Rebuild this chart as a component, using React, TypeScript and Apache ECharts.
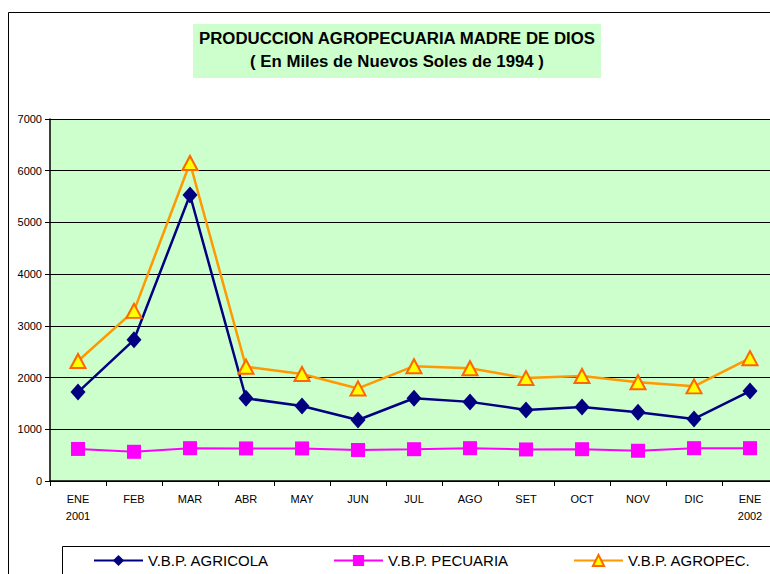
import React, { useEffect, useRef } from "react";
import * as echarts from "echarts";

const months = ["ENE\n2001", "FEB", "MAR", "ABR", "MAY", "JUN", "JUL", "AGO", "SET", "OCT", "NOV", "DIC", "ENE\n2002"];
const agricola = [1720, 2730, 5530, 1600, 1450, 1180, 1600, 1530, 1375, 1430, 1330, 1200, 1740];
const pecuaria = [620, 565, 635, 630, 630, 600, 615, 635, 610, 615, 585, 635, 635];
const agropec = [2320, 3290, 6150, 2210, 2070, 1790, 2220, 2180, 1990, 2030, 1910, 1830, 2375];
const yTicks = { min: 0, max: 7000, interval: 1000 };
const titleLines = ["PRODUCCION AGROPECUARIA MADRE DE DIOS", "( En Miles de Nuevos Soles de 1994 )"];
const seriesNames = ["V.B.P. AGRICOLA", "V.B.P. PECUARIA", "V.B.P. AGROPEC."];

export default function App() {
  const ref = useRef<HTMLDivElement>(null);
  useEffect(() => {
    if (!ref.current) return;
    const chart = echarts.init(ref.current, undefined, { renderer: "svg" });
    const font = "Arial, 'Liberation Sans', sans-serif";
    const legendBase = {
      top: 553,
      itemWidth: 49,
      itemHeight: 14,
      itemGap: 5,
      padding: 0,
      textStyle: { fontSize: 15, color: "#000", fontFamily: font },
    };
    chart.setOption({
      animation: false,
      backgroundColor: "#fff",
      textStyle: { fontFamily: font },
      graphic: [
        {
          type: "rect",
          z: -10,
          shape: { x: 8.5, y: 12.5, width: 800, height: 600 },
          style: { fill: "#fff", stroke: "#000", lineWidth: 1 },
        },
        {
          type: "rect",
          shape: { x: 193, y: 24, width: 408, height: 54 },
          style: { fill: "#CCFFCC" },
        },
        {
          type: "text",
          x: 397,
          y: 38,
          style: {
            text: titleLines[0],
            fontSize: 16.8,
            fontWeight: "bold",
            fontFamily: font,
            fill: "#000",
            textAlign: "center",
            textVerticalAlign: "middle",
          },
        },
        {
          type: "text",
          x: 397,
          y: 61,
          style: {
            text: titleLines[1],
            fontSize: 16.8,
            fontWeight: "bold",
            fontFamily: font,
            fill: "#000",
            textAlign: "center",
            textVerticalAlign: "middle",
          },
        },
        {
          type: "rect",
          shape: { x: 62.5, y: 546.5, width: 760, height: 60 },
          style: { fill: "#fff", stroke: "#000", lineWidth: 1 },
        },
      ],
      legend: [
        { ...legendBase, left: 93, data: [seriesNames[0]] },
        { ...legendBase, left: 333, data: [seriesNames[1]] },
        { ...legendBase, left: 573, data: [seriesNames[2]] },
      ],
      grid: {
        left: 50,
        top: 119,
        width: 728,
        height: 362,
        show: true,
        backgroundColor: "#CCFFCC",
        borderWidth: 0,
      },
      xAxis: {
        type: "category",
        data: months,
        boundaryGap: true,
        axisLine: { show: true, lineStyle: { color: "#000", width: 1.5 } },
        axisTick: { show: true, alignWithLabel: false, length: 5, lineStyle: { color: "#000" } },
        axisLabel: {
          interval: 0,
          color: "#000",
          fontSize: 11,
          fontFamily: font,
          lineHeight: 17,
          margin: 9,
        },
        splitLine: { show: false },
      },
      yAxis: {
        type: "value",
        min: yTicks.min,
        max: yTicks.max,
        interval: yTicks.interval,
        axisLine: { show: true, lineStyle: { color: "#000", width: 1.5 } },
        axisTick: { show: true, length: 5, lineStyle: { color: "#000" } },
        axisLabel: {
          color: "#000",
          fontSize: 11,
          fontFamily: font,
          margin: 8,
          formatter: (v: number) => String(v),
        },
        splitLine: { show: true, lineStyle: { color: "#000", width: 1 } },
      },
      series: [
        {
          name: seriesNames[0],
          type: "line",
          data: agricola,
          symbol: "diamond",
          symbolSize: [15, 17],
          color: "#000080",
          lineStyle: { color: "#000080", width: 2.5 },
          itemStyle: { color: "#000080" },
          z: 3,
        },
        {
          name: seriesNames[1],
          type: "line",
          data: pecuaria,
          symbol: "rect",
          symbolSize: 14,
          color: "#FF00FF",
          lineStyle: { color: "#FF00FF", width: 2 },
          itemStyle: { color: "#FF00FF" },
          z: 3,
        },
        {
          name: seriesNames[2],
          type: "line",
          data: agropec,
          symbol: "triangle",
          symbolSize: [15, 14],
          color: "#FF9900",
          lineStyle: { color: "#FF9900", width: 2.5 },
          itemStyle: { color: "#FFFF00", borderColor: "#FF6600", borderWidth: 2 },
          z: 3,
        },
      ],
    });
    return () => chart.dispose();
  }, []);
  return (
    <div style={{ position: "fixed", left: 0, top: 0, width: 770, height: 574, overflow: "hidden" }}>
      <div ref={ref} style={{ width: 830, height: 620 }} />
    </div>
  );
}
